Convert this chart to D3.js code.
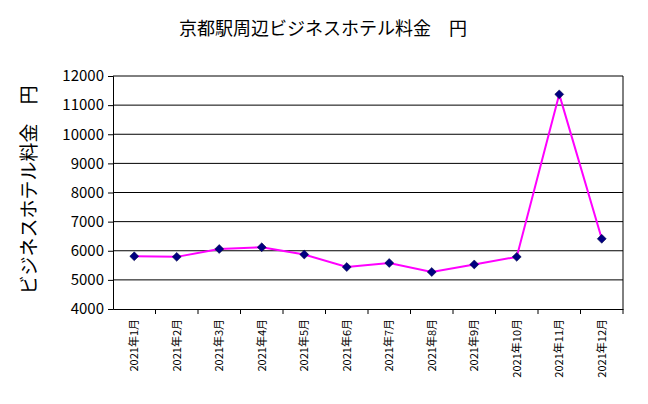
<!DOCTYPE html>
<html><head><meta charset="utf-8">
<script src="https://cdn.jsdelivr.net/npm/d3@7.9.0/dist/d3.min.js"></script>
<style>body{margin:0;background:#fff}text{font-family:"Noto Sans CJK JP",sans-serif}</style>
</head><body><svg id="c" width="648" height="404"></svg>
<script>
// monthly rates, yen
const months = ['2021年1月','2021年2月','2021年3月','2021年4月','2021年5月','2021年6月','2021年7月','2021年8月','2021年9月','2021年10月','2021年11月','2021年12月'];
const prices = [5810, 5790, 6060, 6120, 5870, 5440, 5580, 5270, 5530, 5790, 11370, 6410];
const yTicks = [4000,5000,6000,7000,8000,9000,10000,11000,12000];

const svg = d3.select('#c');
const x = d3.scaleBand().domain(months).range([113, 623]);
const y = d3.scaleLinear().domain([4000, 12000]).range([309, 76]);

svg.append('text').attr('x', 323).attr('y', 35).attr('text-anchor', 'middle')
  .attr('font-size', 18).text('京都駅周辺ビジネスホテル料金　円');

svg.append('text').attr('transform', 'translate(36,190) rotate(-90)')
  .attr('text-anchor', 'middle').attr('font-size', 19).text('ビジネスホテル料金　円');

// gridlines
svg.selectAll('.g').data(yTicks.slice(1)).join('line')
  .attr('x1', 113).attr('x2', 623).attr('y1', d => y(d)).attr('y2', d => y(d))
  .attr('stroke', '#000').attr('stroke-width', 1);

const ya = svg.append('g').attr('transform', 'translate(113,0)')
  .call(d3.axisLeft(y).tickValues(yTicks).tickSize(5).tickFormat(d3.format('d')));
ya.selectAll('text').attr('font-size', 15).attr('font-family', '"Liberation Sans",sans-serif').attr('dx', -1);

const xa = svg.append('g').attr('transform', 'translate(0,309)')
  .call(d3.axisBottom(x).tickSize(5).tickSizeOuter(0));
xa.selectAll('.tick line').attr('transform', `translate(${x.bandwidth()/2},0)`);
xa.selectAll('text').attr('font-size', 11).attr('transform', 'rotate(-90)')
  .attr('text-anchor', 'end').attr('x', -10).attr('y', 0).attr('dy', '0.35em');

svg.append('line').attr('x1', 623).attr('x2', 623).attr('y1', 76).attr('y2', 309).attr('stroke', '#000');

const line = d3.line().x((d, i) => x(months[i]) + x.bandwidth()/2).y(d => y(d));
svg.append('path').datum(prices).attr('d', line).attr('fill', 'none')
  .attr('stroke', '#ff00ff').attr('stroke-width', 2);

svg.selectAll('.m').data(prices).join('path')
  .attr('d', d3.symbol(d3.symbolSquare, 40))
  .attr('transform', (d, i) => `translate(${x(months[i]) + x.bandwidth()/2},${y(d)}) rotate(45)`)
  .attr('fill', '#000080').attr('stroke', '#000040').attr('stroke-width', 0.5);
</script></body></html>
